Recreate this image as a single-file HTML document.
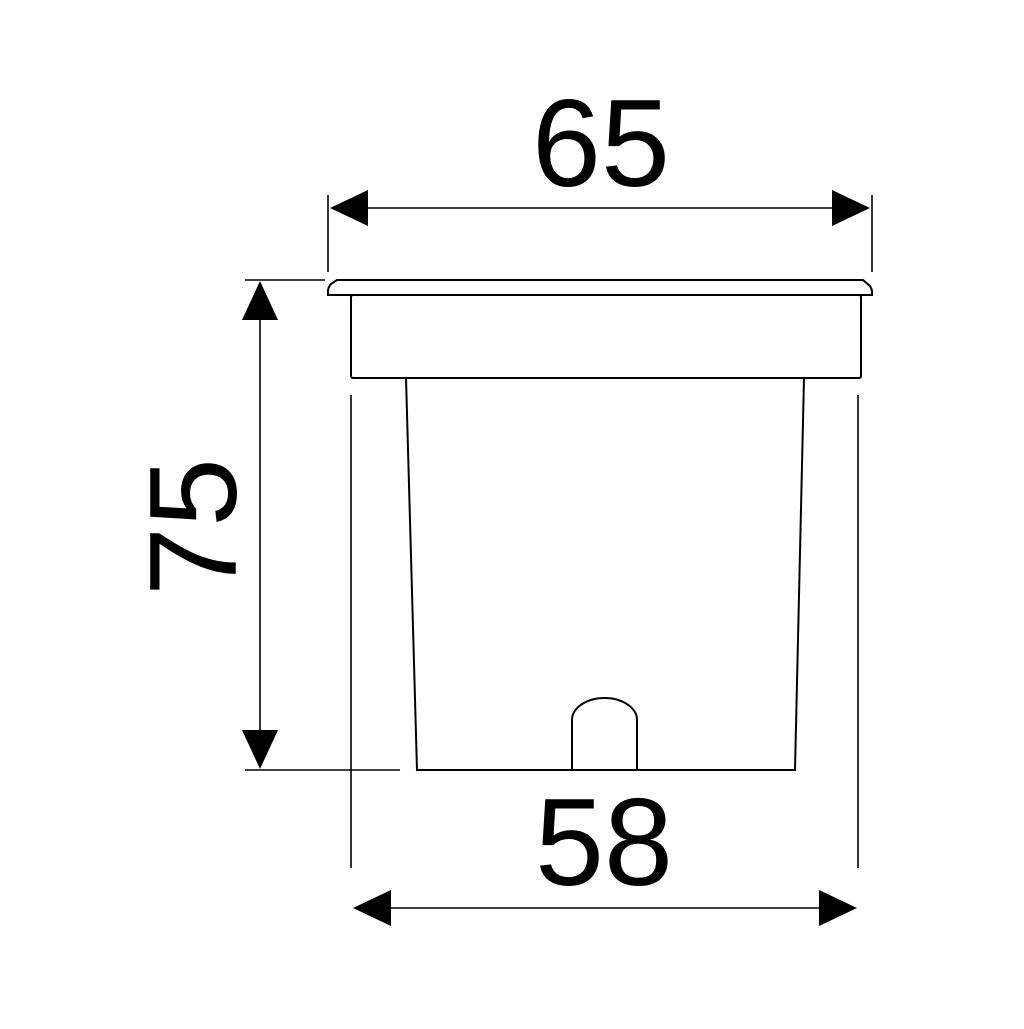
<!DOCTYPE html>
<html><head><style>html,body{margin:0;padding:0;background:#fff}</style></head>
<body>
<svg width="1024" height="1024" viewBox="0 0 1024 1024" xmlns="http://www.w3.org/2000/svg">
<rect width="1024" height="1024" fill="#fff"/>
<g stroke="#000" fill="none" stroke-width="2">
<!-- flange -->
<path d="M337,280 L863,280 L870,286 Q872,289 872,292 L872,295 L328,295 L328,290 Q329,286 331,284 Z"/>
<!-- box -->
<rect x="351" y="295" width="510" height="83" rx="2"/>
<!-- body -->
<path d="M406,378 L417,770 L795,770 L804,378"/>
<!-- arch -->
<path d="M572,770 L572,720 A32.5,22 0 0 1 637,720 L637,770"/>
</g>
<g stroke="#000" stroke-width="1.6" fill="none">
<!-- 65 dim -->
<line x1="328" y1="195" x2="328" y2="272"/>
<line x1="872" y1="195" x2="872" y2="272"/>
<line x1="335" y1="208" x2="865" y2="208"/>
<!-- 75 dim -->
<line x1="245" y1="280" x2="325" y2="280"/>
<line x1="245" y1="770" x2="400" y2="770"/>
<line x1="260" y1="285" x2="260" y2="765"/>
<!-- 58 dim -->
<line x1="351" y1="395" x2="351" y2="868"/>
<line x1="858" y1="395" x2="858" y2="868"/>
<line x1="360" y1="908" x2="852" y2="908"/>
</g>
<g fill="#000">
<polygon points="330,208 368,190 368,226"/>
<polygon points="870,208 832,190 832,226"/>
<polygon points="260,281 242,320 278,320"/>
<polygon points="260,769 242,730 278,730"/>
<polygon points="353,908 391,890 391,926"/>
<polygon points="857,908 819,890 819,926"/>
</g>
<g font-family="Liberation Sans, Arial, sans-serif" font-size="124" fill="#000" text-anchor="middle">
<text x="601" y="186">65</text>
<text x="604" y="885">58</text>
<text x="0" y="0" transform="translate(236,527) rotate(-90)">75</text>
</g>
</svg>
</body></html>
